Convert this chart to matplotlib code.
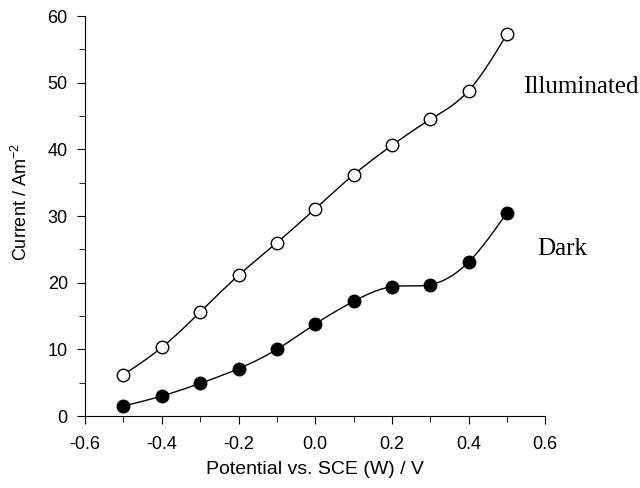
import numpy as np
import matplotlib
matplotlib.use("Agg")
import matplotlib.pyplot as plt
from matplotlib.ticker import MultipleLocator

potential = [-0.5, -0.4, -0.3, -0.2, -0.1, 0.0, 0.1, 0.2, 0.3, 0.4, 0.5]
illuminated = [6.2, 10.3, 15.6, 21.1, 26.0, 31.1, 36.2, 40.6, 44.5, 48.8, 57.3]
dark = [1.5, 3.0, 4.9, 7.1, 10.0, 13.8, 17.2, 19.4, 19.7, 23.1, 30.5]


def smooth(x, y, n=300):
    """Natural cubic spline through the points, used only for the drawn line."""
    x = np.asarray(x, float)
    y = np.asarray(y, float)
    k = len(x)
    h = np.diff(x)
    A = np.zeros((k, k))
    b = np.zeros(k)
    A[0, 0] = A[-1, -1] = 1
    for i in range(1, k - 1):
        A[i, i - 1] = h[i - 1]
        A[i, i] = 2 * (h[i - 1] + h[i])
        A[i, i + 1] = h[i]
        b[i] = 6 * ((y[i + 1] - y[i]) / h[i] - (y[i] - y[i - 1]) / h[i - 1])
    m = np.linalg.solve(A, b)
    xs = np.linspace(x[0], x[-1], n)
    idx = np.clip(np.searchsorted(x, xs) - 1, 0, k - 2)
    t0 = xs - x[idx]
    t1 = x[idx + 1] - xs
    hh = h[idx]
    ys = (m[idx] * t1**3 + m[idx + 1] * t0**3) / (6 * hh) \
        + (y[idx] / hh - m[idx] * hh / 6) * t1 \
        + (y[idx + 1] / hh - m[idx + 1] * hh / 6) * t0
    return xs, ys


plt.rcParams['font.family'] = ['Liberation Sans', 'DejaVu Sans']
plt.rcParams['mathtext.fontset'] = 'custom'
plt.rcParams['mathtext.rm'] = 'Liberation Sans'

fig = plt.figure(figsize=(6.4, 4.88), dpi=100)
ax = fig.add_axes([0.133, 0.1475, 0.719, 0.8195])

for vals, face in [(illuminated, 'white'), (dark, 'black')]:
    xs, ys = smooth(potential, vals)
    ax.plot(xs, ys, color='black', lw=1.0, zorder=2)
    ax.plot(potential, vals, 'o', ms=9, mfc=face, mec='black', mew=1.0, zorder=3)

ax.text(0.542, 49.3, 'Illuminated', family='Liberation Serif', fontsize=18,
        va='center', ha='left', clip_on=False)
ax.text(0.578, 25.0, 'Dark', family='Liberation Serif', fontsize=18,
        va='center', ha='left', clip_on=False)

ax.set_xlim(-0.6, 0.6)
ax.set_ylim(0, 60)
ax.xaxis.set_major_locator(MultipleLocator(0.2))
ax.xaxis.set_minor_locator(MultipleLocator(0.1))
ax.yaxis.set_major_locator(MultipleLocator(10))
ax.yaxis.set_minor_locator(MultipleLocator(5))
ax.xaxis.set_major_formatter(plt.FuncFormatter(lambda v, p: '%.1f' % v))
ax.spines['top'].set_visible(False)
ax.spines['right'].set_visible(False)
ax.tick_params(which='major', direction='out', length=5.5, labelsize=13)
ax.tick_params(which='minor', direction='out', length=4)
ax.tick_params(axis='x', which='major', pad=9)
ax.tick_params(axis='y', which='major', pad=7)

ax.set_xlabel('Potential vs. SCE (W) / V', fontsize=14)
ax.set_ylabel(r'Current / Am$^{\mathregular{-2}}$', fontsize=13)
ax.xaxis.set_label_coords(0.5, -0.112)
ax.yaxis.set_label_coords(-0.118, 0.535)

fig.savefig('out.png', dpi=100)
